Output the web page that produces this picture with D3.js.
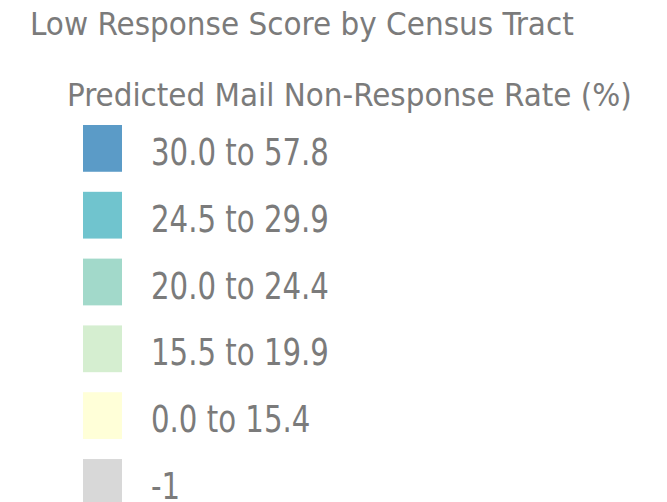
<!DOCTYPE html>
<html>
<head>
<meta charset="utf-8">
<script src="https://cdn.jsdelivr.net/npm/d3@7"></script>
<style>
  body { margin: 0; background: #fff; }
  text { font-family: "DejaVu Sans Condensed", "DejaVu Sans", sans-serif; fill: #7b7b7b; }
</style>
</head>
<body>
<div id="legend"></div>
<script>
var title = "Low Response Score by Census Tract",
    subtitle = "Predicted Mail Non-Response Rate (%)";

var classes = ["30.0 to 57.8", "24.5 to 29.9", "20.0 to 24.4", "15.5 to 19.9", "0.0 to 15.4", "-1"];
var colors = ["#5b9bc7", "#70c4ce", "#a2d9ca", "#d5eed0", "#ffffd8", "#d8d8d8"];

var width = 667, height = 502;

var svg = d3.select("#legend").append("svg")
    .attr("width", width)
    .attr("height", height);

// rows of the legend
var y = d3.scaleBand()
    .domain(classes)
    .range([125, 125 + 66.8 * classes.length])
    .paddingInner(0.3)
    .paddingOuter(0)
    .align(0);

// band step is 66.8, swatch height ~47
y.range([125, 125 + 66.8 * classes.length - 20]);

var color = d3.scaleOrdinal()
    .domain(classes)
    .range(colors);

function fitText(sel, x, w) {
  var len = sel.node().getComputedTextLength();
  sel.attr("transform", "translate(" + x + ",0) scale(" + (w / len) + ",1)");
}

var t1 = svg.append("text")
    .attr("y", 35)
    .style("font-size", "32px")
    .text(title);
fitText(t1, 30, 544);

var t2 = svg.append("text")
    .attr("y", 106)
    .style("font-size", "32px")
    .text(subtitle);
fitText(t2, 67, 565);

var row = svg.selectAll(".row")
    .data(classes)
  .enter().append("g")
    .attr("class", "row")
    .attr("transform", function(d) { return "translate(0," + y(d) + ")"; });

row.append("rect")
    .attr("x", 83)
    .attr("width", 39)
    .attr("height", y.bandwidth())
    .attr("fill", function(d) { return color(d); });

var labels = row.append("text")
    .attr("y", 40)
    .style("font-size", "37px")
    .text(function(d) { return d; });

// common horizontal squeeze taken from the first label
var k = 178 / labels.node().getComputedTextLength();
labels.attr("transform", "translate(151,0) scale(" + k + ",1)");
</script>
</body>
</html>
